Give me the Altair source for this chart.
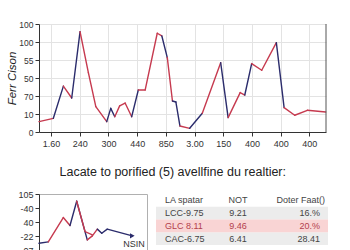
import altair as alt
import pandas as pd

# ---------------- data ----------------
main_title = "(Ferr City of Cison Lacate Rates)"
main_ytitle = "Ferr Cison"
main_ticks = ["1.60", "240", "300", "440", "850", "3.00", "150", "400", "400", "400"]
main_ylabels = ["0", "10", "70", "50", "55", "100", "100"]
main_x = [-0.42, 0.08, 0.43, 0.72, 1.01, 1.30, 1.56, 1.94, 2.08, 2.22, 2.39, 2.58,
          2.81, 3.04, 3.28, 3.70, 3.86, 4.05, 4.23, 4.35, 4.49, 4.83, 5.27, 5.91,
          6.17, 6.59, 6.75, 6.99, 7.34, 7.85, 8.12, 8.49, 8.93, 9.57]
main_y = [11.5, 15.2, 51, 37.8, 111.5, 66, 28.2, 11.5, 26.3, 17, 29, 32.2,
          17, 46.7, 46.7, 109.7, 106.7, 82.7, 34.4, 33.3, 6.7, 4.1, 20.8, 77,
          16, 43.8, 41.1, 76, 68.6, 99.3, 27.1, 18.6, 24.1, 22.2]
main_seg = list("RNRNRRRNNRRRNRRRNRNNRNRNRRNRRNRRR")

sub_title = "Lacate to porified (5) avellfine du realtier:"
small_ylabels = ["-07", "-22", "40", "-40", "105"]
small_x = [0, 0.86, 2.25, 2.87, 3.49, 4.47, 4.94, 5.40, 5.81, 6.32, 8.64]
small_y = [0.48, 0.58, 2.32, 1.75, 3.48, 0.72, 1.01, 1.49, 1.20, 1.49, 1.01]
small_seg = list("NRRNNRRNNN")
branch_x = [3.49, 4.26, 4.94]
branch_y = [3.48, 1.32, 1.08]
end_label = ["NSIN"]
end_label_x = [8.8]
end_label_y = [0.43]

table_header = ["LA spatar", "NOT", "Doter Faat()"]
table_col1 = ["LCC-9.75", "GLC 8.11", "CAC-6.75"]
table_col2 = ["9.21", "9.46", "6.41"]
table_col3 = ["16.%", "20.%", "28.41"]
table_kind = ["plain", "hi", "plain"]

RED = "#c63a4f"
NAVY = "#2b2c6c"
FONT = "Liberation Sans"
TXT = "#333333"


def segments(xs, ys, codes):
    rows = []
    for i, c in enumerate(codes):
        for j in (i, i + 1):
            rows.append({"seg": i, "x": xs[j], "y": ys[j], "c": c})
    return pd.DataFrame(rows)


seg_color = alt.Color("c:N", scale=alt.Scale(domain=["R", "N"], range=[RED, NAVY]), legend=None)

# ---------------- main chart ----------------
xlab_expr = "[" + ",".join("'%s'" % t for t in main_ticks) + "][round(datum.value)]"
ylab_expr = "[" + ",".join("'%s'" % t for t in main_ylabels) + "][round(datum.value/20)]"

main_lines = alt.Chart(segments(main_x, main_y, main_seg)).mark_line(
    strokeWidth=1.4, strokeCap="round"
).encode(
    x=alt.X("x:Q", scale=alt.Scale(domain=[-0.42, 9.58], nice=False, zero=False),
            axis=alt.Axis(values=list(range(10)), labelExpr=xlab_expr, title=None,
                          grid=True, tickSize=4, labelPadding=3, labelFontSize=9,
                          labelOverlap=False)),
    y=alt.Y("y:Q", scale=alt.Scale(domain=[0, 120], nice=False),
            axis=alt.Axis(values=[0, 20, 40, 60, 80, 100, 120], labelExpr=ylab_expr,
                          title=main_ytitle, titleFontSize=11.5, titleFontStyle="italic",
                          titleFontWeight="normal", titleColor="#222", titlePadding=1,
                          grid=True, tickSize=4, labelPadding=2, labelFontSize=8.5,
                          labelOverlap=False)),
    detail="seg:N",
    color=seg_color,
)

right_border = alt.Chart(pd.DataFrame({"k": [0]})).mark_rule(color="#555", strokeWidth=1).encode(
    x=alt.value(287), y=alt.value(0), y2=alt.value(108)
)

main = alt.layer(main_lines, right_border).properties(
    width=287, height=108,
    title=alt.Title(main_title, fontSize=12, offset=24, anchor="middle", color="#222",
                    fontWeight="normal", font=FONT, dx=-13),
    view=alt.ViewBackground(stroke=None),
)

# ---------------- small chart ----------------
sylab_expr = "[" + ",".join("'%s'" % t for t in small_ylabels) + "][round(datum.value)]"
sx = alt.Scale(domain=[0, 10], nice=False, zero=False)
sy = alt.Scale(domain=[-1, 4], nice=False, zero=False)
SX = alt.X("x:Q", scale=sx, axis=alt.Axis(labels=False, ticks=False, title=None, grid=False))
SY = alt.Y("y:Q", scale=sy,
           axis=alt.Axis(values=[0, 1, 2, 3, 4], labelExpr=sylab_expr, title=None,
                         grid=False, tickSize=4, labelPadding=2, labelFontSize=9,
                         labelOverlap=False))

small_lines = alt.Chart(segments(small_x, small_y, small_seg)).mark_line(
    strokeWidth=1.4, strokeCap="round"
).encode(x=SX, y=SY, detail="seg:N", color=seg_color)
branch = alt.Chart(pd.DataFrame({"x": branch_x, "y": branch_y})).mark_line(
    strokeWidth=1.4, color=RED, strokeCap="round"
).encode(x=SX, y=SY)
arrow = alt.Chart(pd.DataFrame({"x": small_x[-1:], "y": small_y[-1:]})).mark_point(
    shape="triangle-right", filled=True, size=28, color=NAVY, opacity=1
).encode(x=SX, y=SY)
nsin = alt.Chart(pd.DataFrame({"x": end_label_x, "y": end_label_y, "t": end_label})).mark_text(
    fontSize=9, color=TXT, font=FONT, align="center", baseline="middle"
).encode(x=SX, y=SY, text="t:N")

small = alt.layer(small_lines, branch, arrow, nsin).properties(
    width=108, height=70, view=alt.ViewBackground(stroke="#b0b0b0")
)

# ---------------- table ----------------
tdf = pd.DataFrame({
    "row": [0, 1, 2, 3],
    "kind": ["head"] + table_kind,
    "c1": [table_header[0]] + table_col1,
    "c2": [table_header[1]] + table_col2,
    "c3": [""] + table_col3,
})
tdf["y0"] = tdf["row"] - 0.5
tdf["y1"] = tdf["row"] + 0.5
ty = alt.Scale(domain=[-0.5, 3.5], reverse=True, nice=False, zero=False)
TW = 172

base = alt.Chart(tdf)
bg_plain = base.transform_filter("datum.kind == 'plain'").mark_rect(color="#ececec").encode(
    y=alt.Y("y0:Q", scale=ty, axis=None), y2="y1:Q", x=alt.value(0), x2=alt.value(TW))
bg_hi = base.transform_filter("datum.kind == 'hi'").mark_rect(color="#f9d4d4").encode(
    y=alt.Y("y0:Q", scale=ty, axis=None), y2="y1:Q", x=alt.value(0), x2=alt.value(TW))
tcolor = alt.condition("datum.kind == 'hi'", alt.value("#b3404c"), alt.value("#444444"))


def col(field, xpos, align):
    return base.mark_text(fontSize=9, font=FONT, align=align, baseline="middle").encode(
        y=alt.Y("row:Q", scale=ty, axis=None), x=alt.value(xpos), text=f"{field}:N", color=tcolor)


head3 = base.transform_filter("datum.kind == 'head'").mark_text(
    fontSize=9, font=FONT, align="right", baseline="middle", color="#444444"
).encode(y=alt.Y("row:Q", scale=ty, axis=None), x=alt.value(169),
         text=alt.value(table_header[2]))

table = alt.layer(bg_plain, bg_hi, col("c1", 9, "left"), col("c2", 82, "center"),
                  col("c3", 164, "right"), head3).properties(
    width=TW, height=51, view=alt.ViewBackground(stroke=None))

bottom = alt.hconcat(small, table, spacing=8).properties(
    title=alt.Title(sub_title, fontSize=12.5, anchor="middle", color="#222",
                    fontWeight="normal", font=FONT, offset=11))

chart = alt.vconcat(main, bottom, spacing=18).properties(
    padding={"left": 6, "top": -17, "right": 0, "bottom": 0}
).configure_axis(
    domainColor="#333333", tickColor="#333333", labelColor=TXT, labelFont=FONT,
    titleFont=FONT, gridColor="#e3e3e3"
).configure_view(stroke=None)

chart.save("out.html", embed_options={"renderer": "svg", "actions": False})
